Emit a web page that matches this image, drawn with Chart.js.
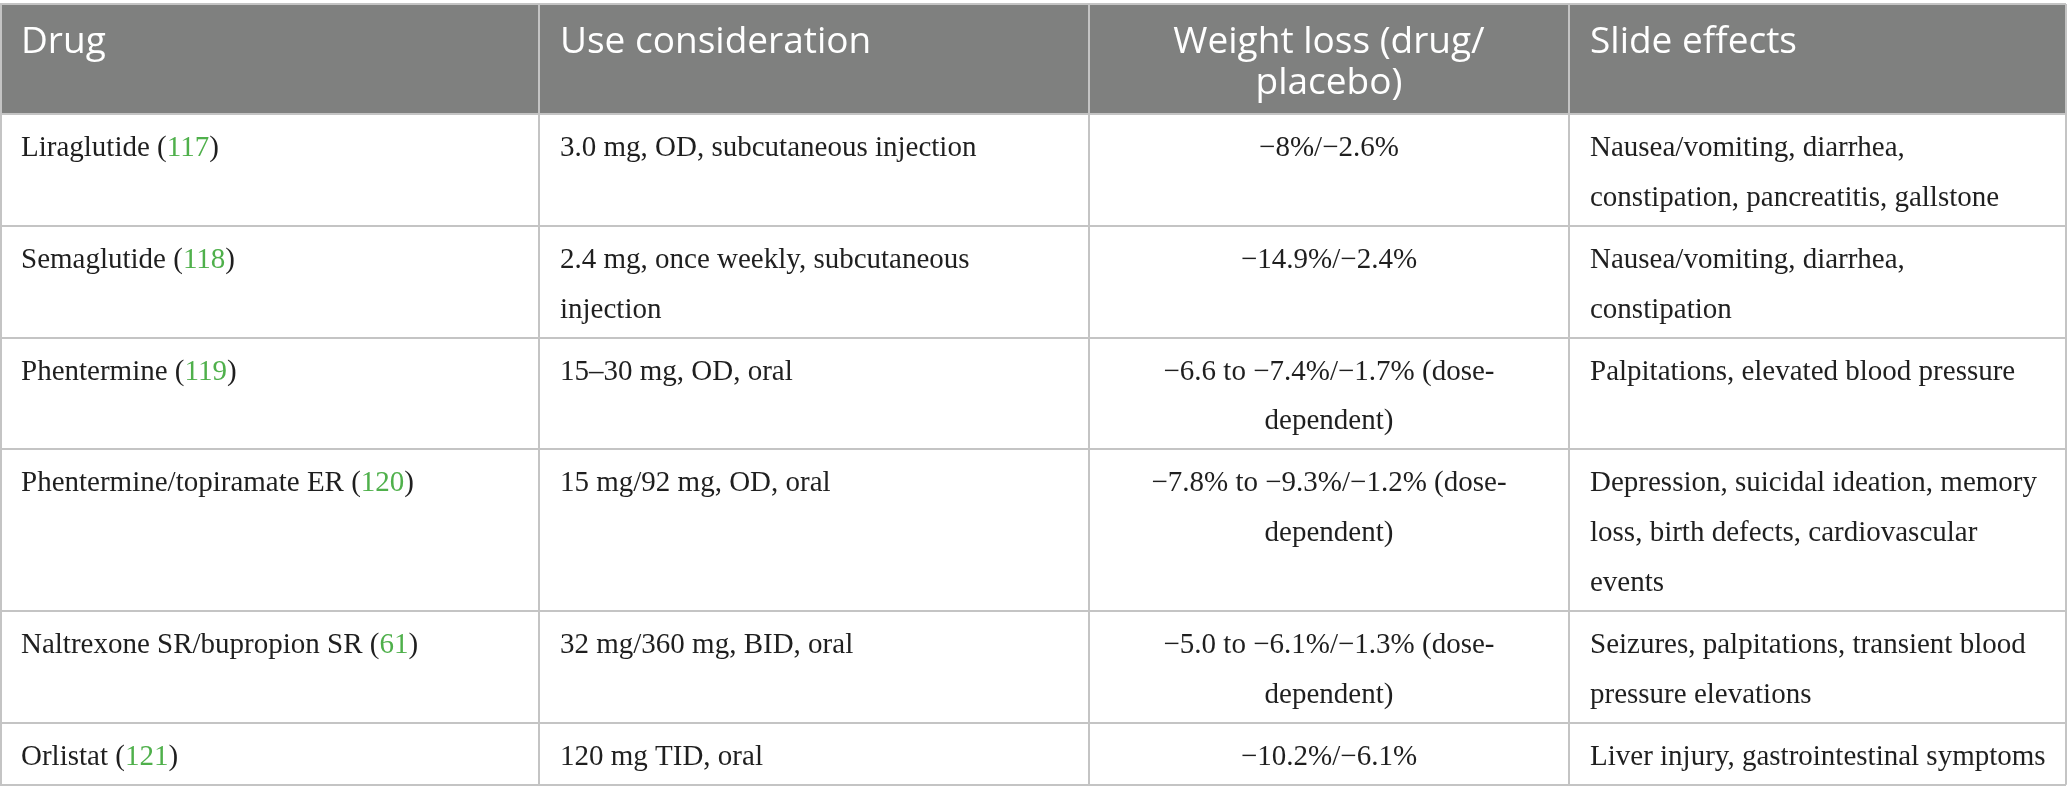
<!DOCTYPE html>
<html>
<head>
<meta charset="utf-8">
<script src="https://cdn.jsdelivr.net/npm/chart.js@4.4.1/dist/chart.umd.min.js"></script>
<style>
  html, body { margin: 0; padding: 0; background: #ffffff; }
  #wrap { width: 2067px; height: 803px; }
</style>
</head>
<body>
<div id="wrap"><canvas id="c" width="2067" height="803"></canvas></div>
<script>
// ---- table content ----
const columns = ["Drug", "Use consideration", "Weight loss (drug/\nplacebo)", "Slide effects"];
const drugs = ["Liraglutide", "Semaglutide", "Phentermine", "Phentermine/topiramate ER", "Naltrexone SR/bupropion SR", "Orlistat"];
const refs = ["117", "118", "119", "120", "61", "121"];
const useConsideration = [
  "3.0 mg, OD, subcutaneous injection",
  "2.4 mg, once weekly, subcutaneous\ninjection",
  "15\u201330 mg, OD, oral",
  "15 mg/92 mg, OD, oral",
  "32 mg/360 mg, BID, oral",
  "120 mg TID, oral"
];
const weightLoss = [
  "\u22128%/\u22122.6%",
  "\u221214.9%/\u22122.4%",
  "\u22126.6 to \u22127.4%/\u22121.7% (dose-\ndependent)",
  "\u22127.8% to \u22129.3%/\u22121.2% (dose-\ndependent)",
  "\u22125.0 to \u22126.1%/\u22121.3% (dose-\ndependent)",
  "\u221210.2%/\u22126.1%"
];
const sideEffects = [
  "Nausea/vomiting, diarrhea,\nconstipation, pancreatitis, gallstone",
  "Nausea/vomiting, diarrhea,\nconstipation",
  "Palpitations, elevated blood pressure",
  "Depression, suicidal ideation, memory\nloss, birth defects, cardiovascular\nevents",
  "Seizures, palpitations, transient blood\npressure elevations",
  "Liver injury, gastrointestinal symptoms"
];

// ---- layout (styles only) ----
const colEdges = [0, 539, 1089, 1569, 2066];
const colAlign = ["left", "left", "center", "left"];
const tableTop = 4;
const headerH = 110;
const padX = 21;
const bodyFont = "29px 'Liberation Serif', 'Times New Roman', serif";
const headFont = "37px 'Open Sans', 'Noto Sans', sans-serif";

const tablePlugin = {
  id: 'tablePlugin',
  afterDraw(chart) {
    const ctx = chart.ctx;
    const xs = chart.scales.x, ys = chart.scales.y;
    const X = v => xs.getPixelForValue(v);
    const Y = v => ys.getPixelForValue(v);
    ctx.save();
    // header background
    ctx.fillStyle = '#7f807f';
    ctx.fillRect(X(colEdges[0]), Y(tableTop), X(colEdges[4]) - X(colEdges[0]), Y(tableTop + headerH) - Y(tableTop));
    // header text
    ctx.fillStyle = '#ffffff';
    ctx.font = headFont;
    ctx.textBaseline = 'alphabetic';
    columns.forEach((t, i) => {
      const lines = t.split('\n');
      lines.forEach((ln, k) => {
        let x;
        if (colAlign[i] === 'center') { ctx.textAlign = 'center'; x = (colEdges[i] + colEdges[i + 1]) / 2; }
        else { ctx.textAlign = 'left'; x = colEdges[i] + padX; }
        ctx.fillText(ln, X(x), Y(tableTop + 49 + k * 41));
      });
    });
    // body rows
    const rowTops = [];
    let y = tableTop + headerH;
    ctx.font = bodyFont;
    for (let r = 0; r < drugs.length; r++) {
      const cells = [drugs[r], useConsideration[r], weightLoss[r], sideEffects[r]];
      const n = Math.max(...cells.map(c => c.split('\n').length));
      rowTops.push(y);
      for (let c = 0; c < 4; c++) {
        const lines = cells[c].split('\n');
        lines.forEach((ln, k) => {
          const by = Y(y + 42 + k * 49.8);
          if (c === 0) {
            ctx.textAlign = 'left';
            let x0 = X(colEdges[0] + padX);
            const a = ln + ' (';
            ctx.fillStyle = '#1f1f1f';
            ctx.fillText(a, x0, by);
            x0 += ctx.measureText(a).width;
            ctx.fillStyle = '#4fb04b';
            ctx.fillText(refs[r], x0, by);
            x0 += ctx.measureText(refs[r]).width;
            ctx.fillStyle = '#1f1f1f';
            ctx.fillText(')', x0, by);
          } else {
            ctx.fillStyle = '#1f1f1f';
            if (colAlign[c] === 'center') { ctx.textAlign = 'center'; ctx.fillText(ln, X((colEdges[c] + colEdges[c + 1]) / 2), by); }
            else { ctx.textAlign = 'left'; ctx.fillText(ln, X(colEdges[c] + padX), by); }
          }
        });
      }
      y += 62 + 49.8 * (n - 1);
    }
    const tableBottom = y;
    // grid lines
    ctx.strokeStyle = '#c4c4c4';
    ctx.lineWidth = 2;
    ctx.beginPath();
    [tableTop, tableTop + headerH, ...rowTops.slice(1), tableBottom].forEach(v => {
      const py = Math.round(Y(v)) ;
      ctx.moveTo(X(colEdges[0]), py); ctx.lineTo(X(colEdges[4]), py);
    });
    colEdges.forEach((v, i) => {
      let px = Math.round(X(v));
      if (i === 0) px = 1;
      ctx.moveTo(px, Y(tableTop)); ctx.lineTo(px, Y(tableBottom));
    });
    ctx.stroke();
    ctx.restore();
  }
};

new Chart(document.getElementById('c'), {
  type: 'scatter',
  data: { datasets: [{ data: [] }] },
  options: {
    responsive: false,
    animation: false,
    devicePixelRatio: 1,
    layout: { padding: 0 },
    plugins: { legend: { display: false }, tooltip: { enabled: false } },
    scales: {
      x: { type: 'linear', min: 0, max: 2067, display: false },
      y: { type: 'linear', min: 0, max: 803, reverse: true, display: false }
    }
  },
  plugins: [tablePlugin]
});
</script>
</body>
</html>
